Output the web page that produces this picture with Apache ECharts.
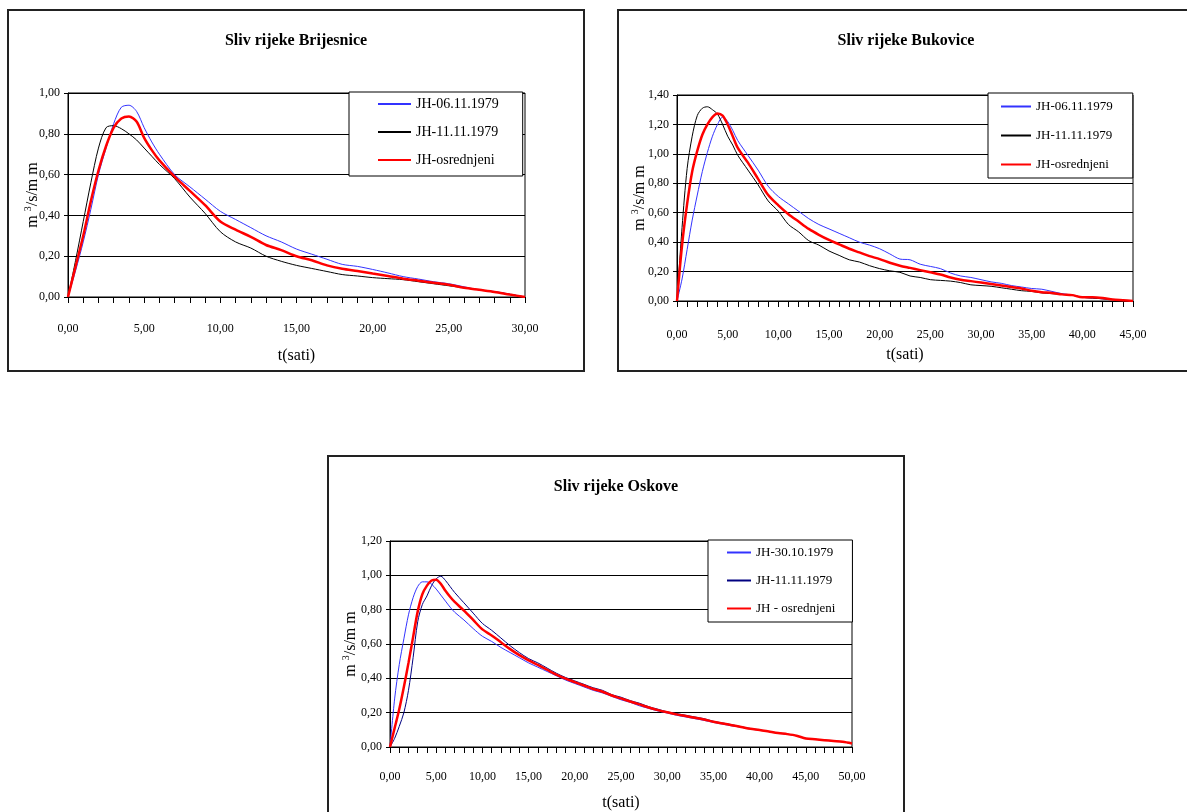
<!DOCTYPE html>
<html>
<head>
<meta charset="utf-8">
<script src="https://cdn.jsdelivr.net/npm/echarts@6/dist/echarts.min.js"></script>
<style>
  html, body { margin: 0; padding: 0; background: #fff; }
  body { width: 1187px; height: 812px; position: relative; overflow: hidden; }
  .frame { position: absolute; width: 578px; height: 363px; border: 2px solid #222; box-sizing: border-box; background: #fff; }
  .frame > div { width: 100%; height: 100%; }
</style>
</head>
<body>
<div class="frame" style="left:7px;top:9px;"><div id="c1"></div></div>
<div class="frame" style="left:617px;top:9px;"><div id="c2"></div></div>
<div class="frame" style="left:327px;top:455px;"><div id="c3"></div></div>

<script>
// Sliv rijeke Brijesnice
const hours1 = [0,0.5,1,1.5,2,2.5,3,3.5,4,4.5,5,5.5,6,7,8,9,10,11,12,13,14,15,16,17,18,19,20,21,22,23,24,25,26,27,28,29,30];
const brij0611 = [0,0.13,0.27,0.43,0.6,0.73,0.85,0.93,0.94,0.91,0.83,0.76,0.7,0.6,0.54,0.48,0.42,0.38,0.34,0.3,0.27,0.235,0.21,0.185,0.16,0.15,0.135,0.118,0.1,0.088,0.075,0.065,0.05,0.035,0.027,0.014,0];
const brij1111 = [0,0.18,0.37,0.56,0.73,0.83,0.84,0.825,0.8,0.77,0.73,0.69,0.65,0.58,0.49,0.41,0.32,0.27,0.24,0.2,0.175,0.155,0.14,0.125,0.11,0.103,0.095,0.09,0.085,0.075,0.065,0.055,0.045,0.035,0.025,0.013,0];
const brijAvg  = [0,0.15,0.3,0.47,0.62,0.74,0.83,0.875,0.885,0.86,0.78,0.72,0.67,0.59,0.52,0.45,0.37,0.33,0.295,0.255,0.23,0.2,0.18,0.155,0.138,0.127,0.115,0.103,0.09,0.08,0.07,0.06,0.045,0.035,0.025,0.012,0];

// Sliv rijeke Bukovice
const hours2 = [0,0.5,1,1.5,2,2.5,3,3.5,4,4.5,5,5.5,6,7,8,9,10,11,12,13,14,15,16,17,18,19,20,21,22,23,24,25,26,27,28,29,30,31,32,33,34,35,36,37,38,39,40,41,42,43,44,45];
const buk0611 = [0,0.15,0.35,0.55,0.72,0.88,1.01,1.12,1.2,1.25,1.22,1.16,1.09,0.99,0.89,0.78,0.71,0.66,0.61,0.56,0.52,0.49,0.46,0.43,0.4,0.38,0.355,0.32,0.285,0.28,0.25,0.235,0.22,0.19,0.17,0.16,0.145,0.13,0.12,0.105,0.095,0.085,0.08,0.065,0.05,0.04,0.025,0.02,0.015,0.01,0.005,0];
const buk1111 = [0,0.5,0.9,1.12,1.26,1.31,1.32,1.3,1.27,1.2,1.12,1.06,0.99,0.89,0.79,0.68,0.61,0.52,0.47,0.41,0.38,0.34,0.31,0.28,0.265,0.24,0.22,0.205,0.195,0.17,0.16,0.145,0.14,0.135,0.125,0.11,0.105,0.1,0.09,0.08,0.07,0.065,0.055,0.05,0.045,0.04,0.025,0.02,0.015,0.01,0.005,0];
const bukAvg  = [0,0.38,0.66,0.88,1.02,1.13,1.2,1.25,1.275,1.26,1.2,1.12,1.04,0.94,0.83,0.72,0.65,0.59,0.54,0.49,0.45,0.415,0.385,0.355,0.33,0.305,0.285,0.26,0.24,0.225,0.21,0.195,0.18,0.16,0.145,0.135,0.125,0.115,0.105,0.095,0.085,0.07,0.06,0.055,0.045,0.04,0.025,0.025,0.02,0.01,0.005,0];

// Sliv rijeke Oskove
const hours3 = [0,0.5,1,1.5,2,2.5,3,3.5,4,4.5,5,5.5,6,6.5,7,8,9,10,11,12,13,14,15,16,17,18,19,20,21,22,23,24,25,26,27,28,29,30,31,32,33,34,35,36,37,38,39,40,41,42,43,44,45,46,47,48,49,50];
const osk3010 = [0,0.28,0.48,0.63,0.77,0.87,0.935,0.962,0.962,0.948,0.92,0.885,0.85,0.815,0.785,0.74,0.69,0.645,0.615,0.58,0.55,0.52,0.49,0.465,0.44,0.415,0.39,0.37,0.35,0.33,0.315,0.295,0.275,0.26,0.24,0.225,0.21,0.198,0.185,0.175,0.165,0.155,0.143,0.133,0.123,0.115,0.105,0.098,0.09,0.08,0.075,0.065,0.05,0.045,0.04,0.035,0.03,0.02];
const osk1111 = [0,0.05,0.12,0.2,0.33,0.52,0.73,0.83,0.88,0.94,0.98,0.995,0.97,0.935,0.9,0.84,0.78,0.72,0.68,0.635,0.59,0.55,0.515,0.49,0.46,0.43,0.405,0.385,0.365,0.345,0.33,0.305,0.29,0.27,0.255,0.235,0.22,0.205,0.195,0.185,0.175,0.165,0.15,0.14,0.13,0.118,0.108,0.1,0.09,0.082,0.075,0.066,0.05,0.045,0.04,0.035,0.03,0.02];
const oskAvg  = [0,0.11,0.22,0.35,0.49,0.64,0.79,0.89,0.94,0.97,0.975,0.95,0.91,0.875,0.845,0.795,0.74,0.685,0.65,0.61,0.57,0.535,0.505,0.478,0.45,0.422,0.398,0.378,0.358,0.338,0.322,0.3,0.283,0.265,0.248,0.23,0.215,0.202,0.19,0.18,0.17,0.16,0.147,0.137,0.127,0.117,0.106,0.099,0.09,0.081,0.075,0.066,0.05,0.045,0.04,0.035,0.03,0.02];

const FONT = 'Liberation Serif'
const comma = v => v.toFixed(2).replace('.', ',')
const zip = (xs, ys) => xs.map((x, i) => [x, ys[i]])

function makeLine(name, hours, values, color, width) {
  return {
    name: name,
    type: 'line',
    data: zip(hours, values),
    symbol: 'none',
    smooth: 0.3,
    lineStyle: { color: color, width: width },
    itemStyle: { color: color },
    emphasis: { disabled: true }
  }
}

function drawChart(el, cfg) {
  const myChart = echarts.init(document.getElementById(el))
  const option = {
    animation: false,
    title: {
      text: cfg.title,
      left: 'center',
      top: 17,
      textStyle: { fontFamily: FONT, fontWeight: 'bold', fontSize: 16, color: '#000' }
    },
    legend: {
      orient: 'vertical',
      left: cfg.legend.left,
      top: cfg.legend.top,
      padding: cfg.legend.padding,
      itemGap: cfg.legend.gap,
      itemWidth: cfg.legend.itemWidth,
      itemHeight: 14,
      itemStyle: { opacity: 0 },
      borderColor: '#000',
      borderWidth: 1,
      backgroundColor: '#fff',
      selectedMode: false,
      textStyle: { fontFamily: FONT, fontSize: cfg.legend.fontSize, color: '#000' }
    },
    grid: {
      left: cfg.grid.left,
      top: cfg.grid.top,
      width: cfg.grid.width,
      height: cfg.grid.height,
      outerBoundsMode: 'none',
      containLabel: false,
      show: true,
      borderColor: '#000',
      borderWidth: 1
    },
    xAxis: {
      type: 'value',
      min: 0,
      max: cfg.xMax,
      interval: 5,
      name: 't(sati)',
      nameLocation: 'middle',
      nameGap: cfg.xNameGap,
      nameMoveOverlap: false,
      nameTextStyle: { fontFamily: FONT, fontSize: 16, color: '#000' },
      axisLine: { show: true, onZero: false, lineStyle: { color: '#000', width: 1 } },
      axisTick: { show: true, length: 6, lineStyle: { color: '#000' } },
      minorTick: { show: true, splitNumber: 5, length: 6, lineStyle: { color: '#000' } },
      splitLine: { show: false },
      axisLabel: { margin: cfg.xLabelMargin, fontFamily: FONT, fontSize: 12, color: '#000', formatter: comma }
    },
    yAxis: {
      type: 'value',
      min: 0,
      max: cfg.yMax,
      interval: 0.2,
      name: 'm {s|3}/s/m m',
      nameLocation: 'middle',
      nameGap: cfg.yNameGap,
      nameMoveOverlap: false,
      nameTextStyle: {
        fontFamily: FONT, fontSize: 16, color: '#000',
        rich: { s: { fontFamily: FONT, fontSize: 10, color: '#000', padding: [0, 0, 9, 0] } }
      },
      axisLine: { show: true, lineStyle: { color: '#000', width: 1 } },
      axisTick: { show: true, length: 4, lineStyle: { color: '#000' } },
      splitLine: { show: true, lineStyle: { color: '#000', width: 1 } },
      axisLabel: { margin: 8, fontFamily: FONT, fontSize: 12, color: '#000', formatter: comma }
    },
    series: cfg.series
  }
  myChart.setOption(option)
}

drawChart('c1', {
  title: 'Sliv rijeke Brijesnice',
  xMax: 30, yMax: 1,
  grid: { left: 59, top: 82, width: 457, height: 204 },
  legend: { left: 340, top: 81, padding: [5, 24, 9, 28], gap: 14, itemWidth: 33, fontSize: 14 },
  xNameGap: 51, xLabelMargin: 26, yNameGap: 26,
  series: [
    makeLine('JH-06.11.1979', hours1, brij0611, '#3333ff', 1),
    makeLine('JH-11.11.1979', hours1, brij1111, '#000000', 1),
    makeLine('JH-osrednjeni', hours1, brijAvg, '#ff0000', 2.5)
  ]
})

drawChart('c2', {
  title: 'Sliv rijeke Bukovice',
  xMax: 45, yMax: 1.4,
  grid: { left: 58, top: 84, width: 456, height: 206 },
  legend: { left: 369, top: 82, padding: [7, 20, 7, 12], gap: 16, itemWidth: 30, fontSize: 13 },
  xNameGap: 46, xLabelMargin: 28, yNameGap: 28,
  series: [
    makeLine('JH-06.11.1979', hours2, buk0611, '#3333ff', 1),
    makeLine('JH-11.11.1979', hours2, buk1111, '#000000', 1),
    makeLine('JH-osrednjeni', hours2, bukAvg, '#ff0000', 2.5)
  ]
})

drawChart('c3', {
  title: 'Sliv rijeke Oskove',
  xMax: 50, yMax: 1.2,
  grid: { left: 61, top: 84, width: 462, height: 206 },
  legend: { left: 379, top: 83, padding: [6, 17, 7, 18], gap: 15, itemWidth: 24, fontSize: 13 },
  xNameGap: 48, xLabelMargin: 24, yNameGap: 30,
  series: [
    makeLine('JH-30.10.1979', hours3, osk3010, '#3333ff', 1),
    makeLine('JH-11.11.1979', hours3, osk1111, '#000080', 1),
    makeLine('JH - osrednjeni', hours3, oskAvg, '#ff0000', 2.5)
  ]
})
</script>
</body>
</html>
